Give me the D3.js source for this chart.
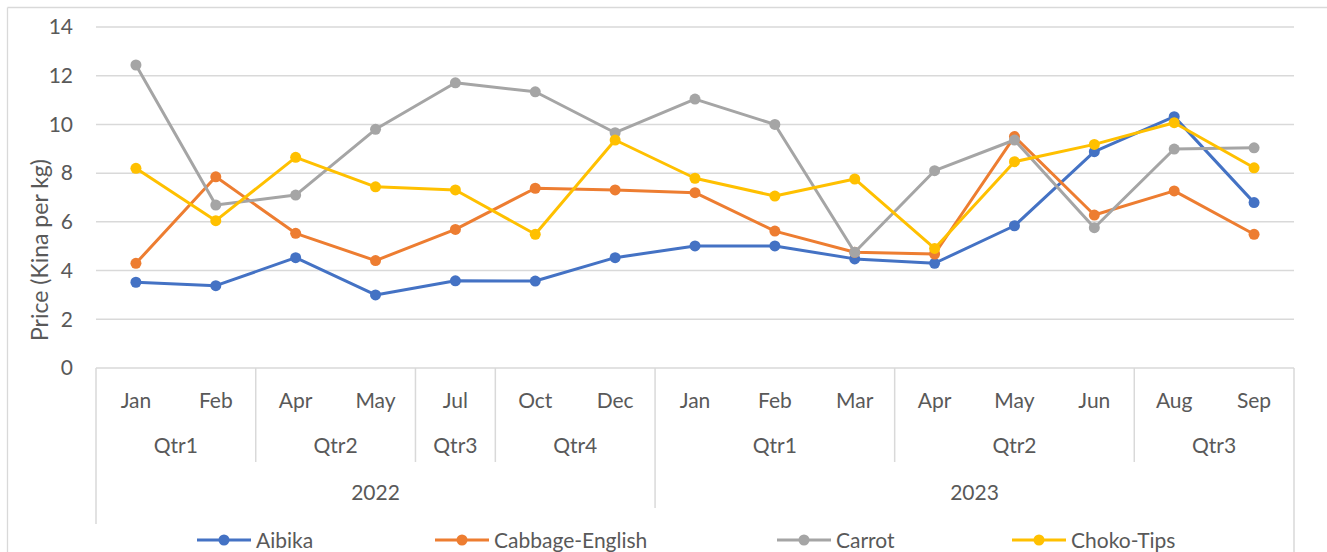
<!DOCTYPE html>
<html>
<head>
<meta charset="utf-8">
<script src="https://cdn.jsdelivr.net/npm/d3@7"></script>
<style>
  body { margin: 0; background: #fff; }
  text { font-family: Lato, "Open Sans", sans-serif; fill: #595959; }
</style>
</head>
<body>
<div id="chart"></div>
<script>
// category hierarchy: month / quarter / year
var months = ["Jan", "Feb", "Apr", "May", "Jul", "Oct", "Dec", "Jan", "Feb", "Mar", "Apr", "May", "Jun", "Aug", "Sep"];
var quarters = ["Qtr1", "Qtr1", "Qtr2", "Qtr2", "Qtr3", "Qtr4", "Qtr4", "Qtr1", "Qtr1", "Qtr1", "Qtr2", "Qtr2", "Qtr2", "Qtr3", "Qtr3"];
var years = ["2022", "2022", "2022", "2022", "2022", "2022", "2022", "2023", "2023", "2023", "2023", "2023", "2023", "2023", "2023"];

var seriesNames = ["Aibika", "Cabbage-English", "Carrot", "Choko-Tips"];
var aibika = [3.52, 3.38, 4.53, 3.0, 3.58, 3.57, 4.53, 5.01, 5.01, 4.48, 4.3, 5.84, 8.88, 10.32, 6.79];
var cabbage = [4.3, 7.85, 5.53, 4.41, 5.69, 7.38, 7.31, 7.2, 5.62, 4.75, 4.68, 9.5, 6.28, 7.27, 5.49];
var carrot = [12.44, 6.69, 7.1, 9.8, 11.71, 11.34, 9.66, 11.04, 10.0, 4.75, 8.1, 9.36, 5.76, 8.99, 9.04];
var choko = [8.2, 6.05, 8.65, 7.44, 7.31, 5.49, 9.36, 7.79, 7.06, 7.76, 4.91, 8.47, 9.18, 10.07, 8.22];
var yTicks = [0, 2, 4, 6, 8, 10, 12, 14];

var colors = ["#4472c4", "#ed7d31", "#a5a5a5", "#ffc000"];
var allSeries = [aibika, cabbage, carrot, choko];

var W = 1327, H = 552;
var plotL = 96, plotR = 1294, plotT = 27, plotB = 368;
var fontSize = "21px";

var svg = d3.select("#chart").append("svg")
  .attr("width", W)
  .attr("height", H);

// outer frame (only top and left are visible)
svg.append("line").attr("x1", 7.5).attr("x2", W).attr("y1", 7.5).attr("y2", 7.5)
  .attr("stroke", "#d9d9d9").attr("stroke-width", 1.3);
svg.append("line").attr("x1", 7.5).attr("x2", 7.5).attr("y1", 7.5).attr("y2", H)
  .attr("stroke", "#d9d9d9").attr("stroke-width", 1.3);

var idx = d3.range(months.length);
var x = d3.scaleBand().domain(idx).range([plotL, plotR]);
var y = d3.scaleLinear().domain([0, 14]).range([plotB, plotT]);

// gridlines
svg.append("g")
  .selectAll("line")
  .data(yTicks.filter(d => d > 0))
  .enter().append("line")
  .attr("x1", plotL).attr("x2", plotR)
  .attr("y1", d => y(d)).attr("y2", d => y(d))
  .attr("stroke", "#d9d9d9").attr("stroke-width", 1.5);

// y axis labels
var yAxis = svg.append("g")
  .attr("transform", "translate(" + plotL + ",0)")
  .call(d3.axisLeft(y).tickValues(yTicks).tickSize(0).tickPadding(23));
yAxis.select(".domain").remove();
yAxis.selectAll("text")
  .style("font-size", fontSize)
  .style("font-family", "Lato, sans-serif")
  .attr("fill", "#595959");

svg.append("text")
  .attr("transform", "translate(48,250) rotate(-90)")
  .attr("text-anchor", "middle")
  .style("font-size", "23px")
  .text("Price (Kina per kg)");

// category axis line
svg.append("line").attr("x1", plotL).attr("x2", plotR).attr("y1", plotB).attr("y2", plotB)
  .attr("stroke", "#d9d9d9").attr("stroke-width", 1.5);

// month labels
svg.append("g").selectAll("text")
  .data(idx)
  .enter().append("text")
  .attr("x", d => x(d) + x.bandwidth() / 2)
  .attr("y", 408)
  .attr("text-anchor", "middle")
  .style("font-size", fontSize)
  .text(d => months[d]);

// runs of equal keys -> one group each
function groups(keys) {
  var out = [], start = 0;
  for (var i = 1; i <= keys.length; i++) {
    if (i === keys.length || keys[i] !== keys[start]) {
      out.push({label: keys[start].split("|").pop(), start: start, end: i - 1});
      start = i;
    }
  }
  return out;
}
var qGroups = groups(quarters.map((q, i) => years[i] + "|" + q));
var yGroups = groups(years);

svg.append("g").selectAll("text")
  .data(qGroups)
  .enter().append("text")
  .attr("x", d => (x(d.start) + x(d.end) + x.bandwidth()) / 2)
  .attr("y", 453)
  .attr("text-anchor", "middle")
  .style("font-size", fontSize)
  .text(d => d.label);

svg.append("g").selectAll("text")
  .data(yGroups)
  .enter().append("text")
  .attr("x", d => (x(d.start) + x(d.end) + x.bandwidth()) / 2)
  .attr("y", 500)
  .attr("text-anchor", "middle")
  .style("font-size", fontSize)
  .text(d => d.label);

// separators
var sep = svg.append("g").attr("stroke", "#d9d9d9").attr("stroke-width", 1.5);
qGroups.slice(1).forEach(function (g) {
  var isYear = yGroups.some(yg => yg.start === g.start);
  sep.append("line")
    .attr("x1", x(g.start)).attr("x2", x(g.start))
    .attr("y1", plotB).attr("y2", isYear ? 508 : 462);
});
sep.append("line").attr("x1", plotL).attr("x2", plotL).attr("y1", plotB).attr("y2", 524);
sep.append("line").attr("x1", plotR).attr("x2", plotR).attr("y1", plotB).attr("y2", H);

// series
var line = d3.line()
  .x((d, i) => x(i) + x.bandwidth() / 2)
  .y(d => y(d));

allSeries.forEach(function (vals, s) {
  var g = svg.append("g");
  g.append("path")
    .datum(vals)
    .attr("d", line)
    .attr("fill", "none")
    .attr("stroke", colors[s])
    .attr("stroke-width", 3)
    .attr("stroke-linejoin", "round");
  g.selectAll("circle")
    .data(vals)
    .enter().append("circle")
    .attr("cx", (d, i) => x(i) + x.bandwidth() / 2)
    .attr("cy", d => y(d))
    .attr("r", 5.5)
    .attr("fill", colors[s]);
});

// legend
var legendX = [197, 435, 777, 1012];
var legend = svg.append("g").selectAll("g")
  .data(seriesNames)
  .enter().append("g")
  .attr("transform", (d, i) => "translate(" + legendX[i] + ",540)");
legend.append("line")
  .attr("x1", 0).attr("x2", 54)
  .attr("stroke", (d, i) => colors[i]).attr("stroke-width", 3);
legend.append("circle")
  .attr("cx", 27).attr("r", 5.5)
  .attr("fill", (d, i) => colors[i]);
legend.append("text")
  .attr("x", 59).attr("y", 8)
  .style("font-size", fontSize)
  .text(d => d);
</script>
</body>
</html>
